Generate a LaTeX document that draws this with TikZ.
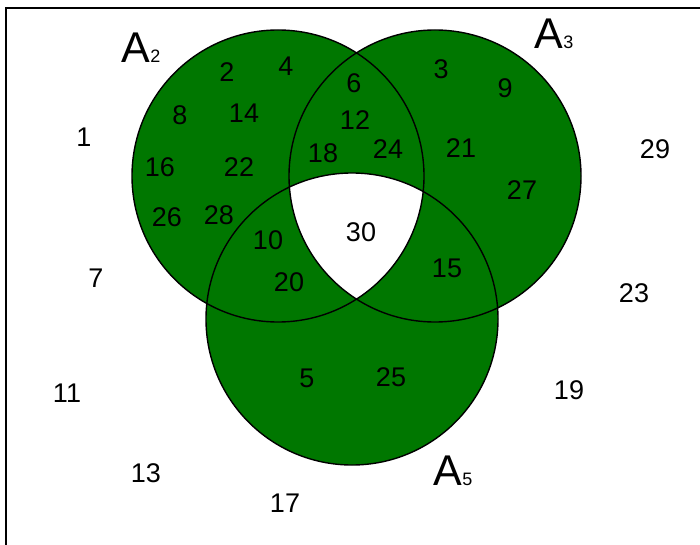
\documentclass[tikz,border=0pt]{standalone}
\usepackage{fontspec}
\setmainfont{Liberation Sans}
\usetikzlibrary{positioning}
\definecolor{setgreen}{RGB}{0,119,0}
\tikzset{
  setdisc/.style={fill=setgreen},
  setrim/.style={draw=black, line width=1.4pt},
  frameline/.style={draw=black, line width=2.4pt},
  elem/.style={inner sep=0pt, font=\fontsize{27}{27}\selectfont},
  setname/.style={inner sep=0pt, font=\fontsize{43}{43}\selectfont},
}
\newcommand{\subidx}[1]{{\fontsize{18}{18}\selectfont #1}}

\begin{document}
\begin{tikzpicture}[x=1pt, y=-1pt]
  \useasboundingbox (0,0) rectangle (700,545);

  % circle centres
  \coordinate (cA2) at (278,176);
  \coordinate (cA3) at (435,176);
  \coordinate (cA5) at (352,319);

  % frame
  \coordinate (fb) at (6,545);
  \coordinate (fc) at (6,8);
  \coordinate (fr) at (700,8);
  \draw[frameline] (fb) -- (fc) -- (fr);

  % discs, with the common part left white
  \fill[setdisc] (cA2) circle (146);
  \fill[setdisc] (cA3) circle (146);
  \fill[setdisc] (cA5) circle (146);
  \begin{scope}
    \clip (cA2) circle (146);
    \clip (cA3) circle (146);
    \fill[white] (cA5) circle (146);
  \end{scope}
  \draw[setrim] (cA2) circle (146);
  \draw[setrim] (cA3) circle (146);
  \draw[setrim] (cA5) circle (146);

  % set names
  \node[setname] (lA2) at (141,48) {A\subidx{2}};
  \node[setname] (lA3) at (554,34) {A\subidx{3}};
  \node[setname] (lA5) at (453,471) {A\subidx{5}};

  % elements
  \foreach \n/\x/\y in {
      1/84/137, 7/96/278, 11/67/393, 13/146/473, 17/285/503,
      19/569/390, 23/634/293, 29/655/149,
      2/227/72, 4/286/66, 8/180/115, 14/244/113,
      16/160/167, 22/239/167, 26/167/217, 28/219/215,
      6/354/83, 12/355/120, 18/323/153, 24/388/149,
      3/441/69, 9/505/88, 21/461/148, 27/522/190,
      10/268/240, 20/289/282, 15/447/268, 30/361/232,
      5/307/378, 25/391/377}
    \node[elem] (n\n) at (\x,\y) {\n};
\end{tikzpicture}
\end{document}
